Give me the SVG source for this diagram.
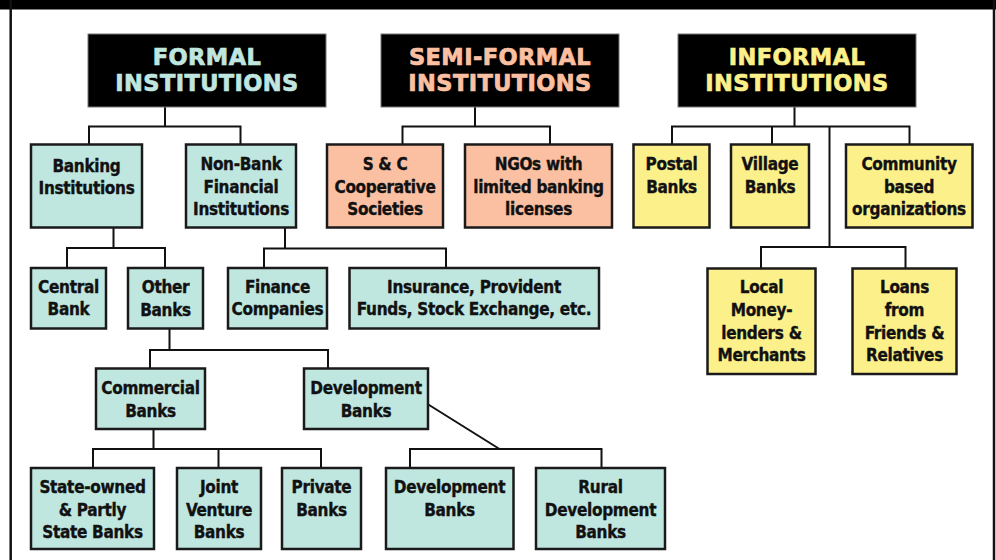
<svg xmlns="http://www.w3.org/2000/svg" width="996" height="560" viewBox="0 0 996 560">
<style>
.hdr{fill:#000;stroke:#777;stroke-width:1}
.ht{font-family:"DejaVu Sans","Liberation Sans",sans-serif;font-weight:bold;font-size:22.5px;text-anchor:middle;letter-spacing:0.4px;stroke-width:0.7px}
.box{stroke:#1a1a1a;stroke-width:2.5}
.f{fill:#c0e6e0}.s{fill:#fbc0a2}.i{fill:#fcf08a}
.t{font-family:"DejaVu Sans Condensed","DejaVu Sans",sans-serif;font-stretch:condensed;font-weight:bold;font-size:17px;letter-spacing:-0.3px;text-anchor:middle;fill:#111;stroke:#111;stroke-width:0.35px}
.c{fill:none;stroke:#111;stroke-width:2}
</style>
<rect x="0" y="0" width="996" height="560" fill="#fff"/>
<rect x="0" y="0" width="996" height="9.5" fill="#000"/>
<line x1="10.7" y1="0" x2="10.7" y2="560" stroke="#111" stroke-width="2.5"/>
<line x1="994" y1="0" x2="994" y2="560" stroke="#111" stroke-width="2.5"/>

<g id="connectors">
<path class="c" d="M165 107V126.5M89 144.5V126.5H240.5V144.5"/>
<path class="c" d="M475 107V126.5M402.5 144.5V126.5H550V144.5"/>
<path class="c" d="M794.5 107V126.5M672 144.5V126.5H909.5V144.5M772 126.5V144.5M829.5 126.5V247M761 268.5V247H905.5V268.5"/>
<path class="c" d="M113.5 227.5V248M67 268V248H165V268"/>
<path class="c" d="M285 227.5V248.5M264 268V248.5H446V268"/>
<path class="c" d="M169.5 328.5V350M150 368.5V350H328V368.5"/>
<path class="c" d="M153.5 429V449M93 468V449H321V468M218.5 449V468"/>
<path class="c" d="M427.5 404L499.5 449M410 468V449H601.5V468"/>
</g>

<g id="formal"><rect class="hdr" x="88" y="34" width="238" height="73"/><text class="ht" fill="#c0e6e0" stroke="#c0e6e0"><tspan x="207" y="65">FORMAL</tspan><tspan x="207" y="91">INSTITUTIONS</tspan></text></g>
<g id="semiformal"><rect class="hdr" x="381" y="34" width="238" height="73"/><text class="ht" fill="#fbc0a2" stroke="#fbc0a2"><tspan x="500" y="65">SEMI-FORMAL</tspan><tspan x="500" y="91">INSTITUTIONS</tspan></text></g>
<g id="informal"><rect class="hdr" x="678" y="34" width="238" height="73"/><text class="ht" fill="#fcf08a" stroke="#fcf08a"><tspan x="797" y="65">INFORMAL</tspan><tspan x="797" y="91">INSTITUTIONS</tspan></text></g>

<g id="banking"><rect class="box f" x="31" y="144.5" width="111" height="83"/><text class="t"><tspan x="86.5" y="171.5">Banking</tspan><tspan x="86.5" y="194">Institutions</tspan></text></g>
<g id="nonbank"><rect class="box f" x="186" y="144.5" width="110" height="83"/><text class="t"><tspan x="241" y="170">Non-Bank</tspan><tspan x="241" y="192.5">Financial</tspan><tspan x="241" y="215">Institutions</tspan></text></g>
<g id="sc"><rect class="box s" x="327" y="144.5" width="116" height="83"/><text class="t"><tspan x="385" y="170">S &amp; C</tspan><tspan x="385" y="192.5">Cooperative</tspan><tspan x="385" y="215">Societies</tspan></text></g>
<g id="ngo"><rect class="box s" x="465" y="144.5" width="147" height="83"/><text class="t"><tspan x="538.5" y="170">NGOs with</tspan><tspan x="538.5" y="192.5">limited banking</tspan><tspan x="538.5" y="215">licenses</tspan></text></g>
<g id="postal"><rect class="box i" x="633.5" y="144.5" width="76" height="83"/><text class="t"><tspan x="671.5" y="170">Postal</tspan><tspan x="671.5" y="192.5">Banks</tspan></text></g>
<g id="village"><rect class="box i" x="731" y="144.5" width="78" height="83"/><text class="t"><tspan x="770" y="170">Village</tspan><tspan x="770" y="192.5">Banks</tspan></text></g>
<g id="community"><rect class="box i" x="846" y="144.5" width="126.5" height="83"/><text class="t"><tspan x="909" y="170">Community</tspan><tspan x="909" y="192.5">based</tspan><tspan x="909" y="215">organizations</tspan></text></g>

<g id="central"><rect class="box f" x="31" y="268" width="75" height="60.5"/><text class="t"><tspan x="68.5" y="292.5">Central</tspan><tspan x="68.5" y="315">Bank</tspan></text></g>
<g id="other"><rect class="box f" x="128" y="268" width="75" height="60.5"/><text class="t"><tspan x="165.5" y="293">Other</tspan><tspan x="165.5" y="315.5">Banks</tspan></text></g>
<g id="finance"><rect class="box f" x="228" y="268" width="99" height="60.5"/><text class="t"><tspan x="277.5" y="292.5">Finance</tspan><tspan x="277.5" y="315">Companies</tspan></text></g>
<g id="insurance"><rect class="box f" x="349.5" y="268" width="249.5" height="60.5"/><text class="t"><tspan x="474" y="292.5">Insurance, Provident</tspan><tspan x="474" y="315">Funds, Stock Exchange, etc.</tspan></text></g>
<g id="local"><rect class="box i" x="707.5" y="268.5" width="108" height="105.5"/><text class="t"><tspan x="761.5" y="293.3">Local</tspan><tspan x="761.5" y="316">Money-</tspan><tspan x="761.5" y="338.7">lenders &amp;</tspan><tspan x="761.5" y="361">Merchants</tspan></text></g>
<g id="loans"><rect class="box i" x="852.5" y="268.5" width="104" height="105.5"/><text class="t"><tspan x="904.5" y="293.3">Loans</tspan><tspan x="904.5" y="316">from</tspan><tspan x="904.5" y="338.7">Friends &amp;</tspan><tspan x="904.5" y="361">Relatives</tspan></text></g>

<g id="commercial"><rect class="box f" x="96" y="368.5" width="109" height="60.5"/><text class="t"><tspan x="150.5" y="394.3">Commercial</tspan><tspan x="150.5" y="416.7">Banks</tspan></text></g>
<g id="development"><rect class="box f" x="304" y="368.5" width="124" height="60.5"/><text class="t"><tspan x="366" y="394.3">Development</tspan><tspan x="366" y="416.7">Banks</tspan></text></g>

<g id="stateowned"><rect class="box f" x="31" y="468" width="123" height="81"/><text class="t"><tspan x="92.5" y="492.7">State-owned</tspan><tspan x="92.5" y="515.5">&amp; Partly</tspan><tspan x="92.5" y="538.3">State Banks</tspan></text></g>
<g id="joint"><rect class="box f" x="177" y="468" width="84" height="81"/><text class="t"><tspan x="219" y="492.7">Joint</tspan><tspan x="219" y="515.5">Venture</tspan><tspan x="219" y="538.3">Banks</tspan></text></g>
<g id="private"><rect class="box f" x="282" y="468" width="79" height="81"/><text class="t"><tspan x="321.5" y="492.7">Private</tspan><tspan x="321.5" y="515.5">Banks</tspan></text></g>
<g id="development2"><rect class="box f" x="386" y="468" width="127.5" height="81"/><text class="t"><tspan x="449.5" y="492.7">Development</tspan><tspan x="449.5" y="515.5">Banks</tspan></text></g>
<g id="rural"><rect class="box f" x="536" y="468" width="129" height="81"/><text class="t"><tspan x="600.5" y="492.7">Rural</tspan><tspan x="600.5" y="515.5">Development</tspan><tspan x="600.5" y="538.3">Banks</tspan></text></g>
</svg>
